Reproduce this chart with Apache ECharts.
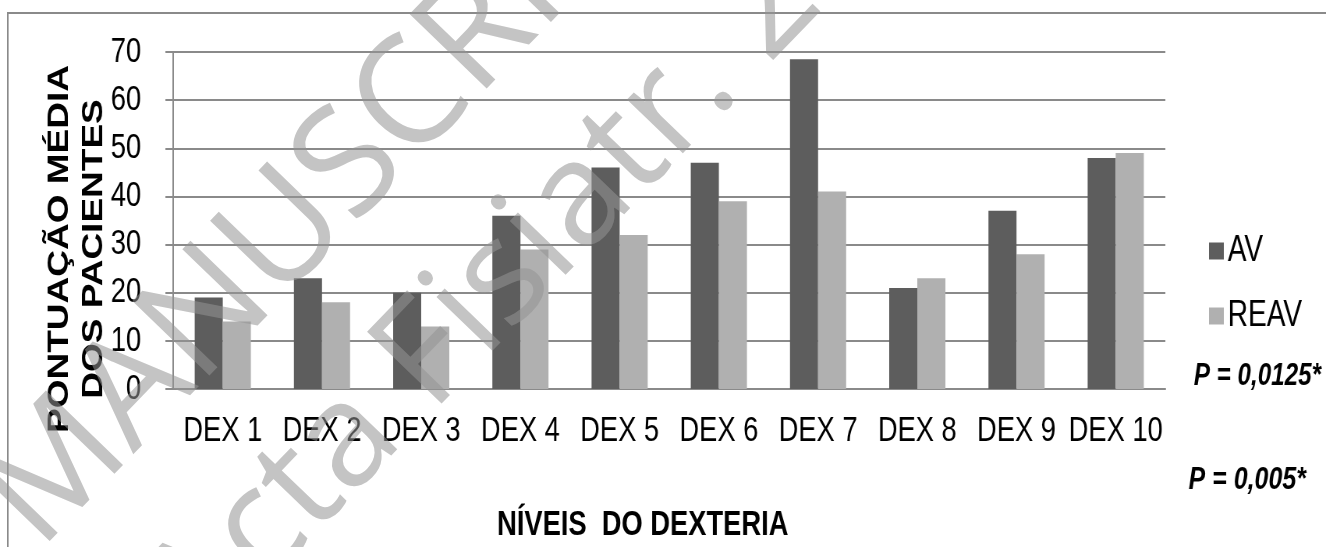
<!DOCTYPE html>
<html>
<head>
<meta charset="utf-8">
<title>Níveis do Dexteria</title>
<script src="https://cdn.jsdelivr.net/npm/echarts@6/dist/echarts.min.js"></script>
<style>
  html, body { margin: 0; padding: 0; background: #fff; overflow: hidden; }
  #wrap { position: relative; width: 1326px; height: 547px; overflow: hidden; }
  /* the chart is laid out wide and squeezed horizontally */
  #chart { position: absolute; left: 0; top: 0; width: 1700px; height: 547px;
           transform: scaleX(0.78); transform-origin: 0 0; }
  #mark { position: absolute; left: 0; top: 0; width: 1326px; height: 547px; pointer-events: none; }
</style>
</head>
<body>
<div id="wrap">
  <div id="chart"></div>
  <div id="mark"></div>
</div>
<script>
// categories and mean scores
const categories = ['DEX 1', 'DEX 2', 'DEX 3', 'DEX 4', 'DEX 5', 'DEX 6', 'DEX 7', 'DEX 8', 'DEX 9', 'DEX 10'];
const avValues   = [19, 23, 20, 36, 46, 47, 68.5, 21, 37, 48];
const reavValues = [14, 18, 13, 29, 32, 39, 41, 23, 28, 49];
const seriesNames = ['AV', 'REAV'];
const yTicks = { min: 0, max: 70, interval: 10 };
const yTitle = 'PONTUAÇÃO MÉDIA\nDOS PACIENTES';
const xTitle = 'NÍVEIS  DO DEXTERIA';
const pNotes = ['P = 0,0125*', 'P = 0,005*'];
const stampLines = ['MANUSCRIPT', 'Acta Fisiatr. 2'];

const FONT = "'Liberation Sans', Arial, Helvetica, sans-serif";
const GRID = '#8a8a8a';

const chart = echarts.init(document.getElementById('chart'), null, { renderer: 'canvas' });
chart.setOption({
  backgroundColor: '#ffffff',
  animation: false,
  grid: { left: 222, right: 206, top: 52, bottom: 158, containLabel: false },
  legend: {
    orient: 'vertical',
    left: 1550,
    top: 233,
    itemWidth: 19,
    itemHeight: 17,
    itemGap: 29,
    padding: 0,
    icon: 'rect',
    textStyle: { fontFamily: FONT, fontSize: 36, lineHeight: 36, color: '#000' },
    data: seriesNames
  },
  xAxis: {
    type: 'category',
    data: categories,
    axisLine: { show: true, lineStyle: { color: GRID, width: 2 } },
    axisTick: { show: false },
    axisLabel: { fontFamily: FONT, fontSize: 35, color: '#000', margin: 25, interval: 0 }
  },
  yAxis: {
    type: 'value',
    min: yTicks.min,
    max: yTicks.max,
    interval: yTicks.interval,
    axisLine: { show: true, lineStyle: { color: GRID, width: 2 } },
    axisTick: { show: true, length: 10, lineStyle: { color: GRID, width: 2 } },
    axisLabel: { fontFamily: FONT, fontSize: 35, color: '#000', margin: 41 },
    splitLine: { show: true, lineStyle: { color: GRID, width: 2 } }
  },
  series: [
    {
      name: seriesNames[0], type: 'bar', data: avValues,
      barWidth: 36, barGap: '0%',
      itemStyle: { color: '#5d5d5d' }
    },
    {
      name: seriesNames[1], type: 'bar', data: reavValues,
      barWidth: 36, barGap: '0%',
      itemStyle: { color: '#b0b0b0' }
    }
  ],
  graphic: [
    // frame around the figure
    { type: 'rect', z: 0, silent: true,
      shape: { x: 10, y: 13, width: 2000, height: 1000 },
      style: { fill: 'none', stroke: '#8a8a8a', lineWidth: 2 } },
    // y-axis title
    { type: 'text', x: 99, y: 249, rotation: Math.PI / 2,
      style: { text: yTitle, fontFamily: FONT, fontSize: 37, fontWeight: 'bold',
               lineHeight: 44, fill: '#000', align: 'center', verticalAlign: 'middle' } },
    // x-axis title
    { type: 'text', x: 824, y: 525,
      style: { text: xTitle, fontFamily: FONT, fontSize: 35, fontWeight: 'bold',
               fill: '#000', align: 'center', verticalAlign: 'middle' } },
    // significance notes
    { type: 'text', x: 1612, y: 376,
      style: { text: pNotes[0], fontFamily: FONT, fontSize: 31, fontWeight: 'bold', fontStyle: 'italic',
               fill: '#000', align: 'center', verticalAlign: 'middle' } },
    { type: 'text', x: 1599, y: 480,
      style: { text: pNotes[1], fontFamily: FONT, fontSize: 32, fontWeight: 'bold', fontStyle: 'italic',
               fill: '#000', align: 'center', verticalAlign: 'middle' } }
  ]
});

// translucent diagonal stamp drawn over the figure
const mark = echarts.init(document.getElementById('mark'), null, { renderer: 'canvas' });
const rot = 46 * Math.PI / 180;
const stampBase = { fontFamily: "'Open Sans', 'Noto Sans', sans-serif",
                    fill: '#939393', opacity: 0.55, align: 'center', verticalAlign: 'middle' };
mark.setOption({
  animation: false,
  graphic: [
    { type: 'text', x: 334, y: 185, rotation: rot, silent: true,
      style: Object.assign({ text: stampLines[0], fontSize: 150 }, stampBase) },
    { type: 'text', x: 484, y: 300, rotation: rot, silent: true,
      style: Object.assign({ text: stampLines[1], fontSize: 145 }, stampBase) }
  ]
});
</script>
</body>
</html>
